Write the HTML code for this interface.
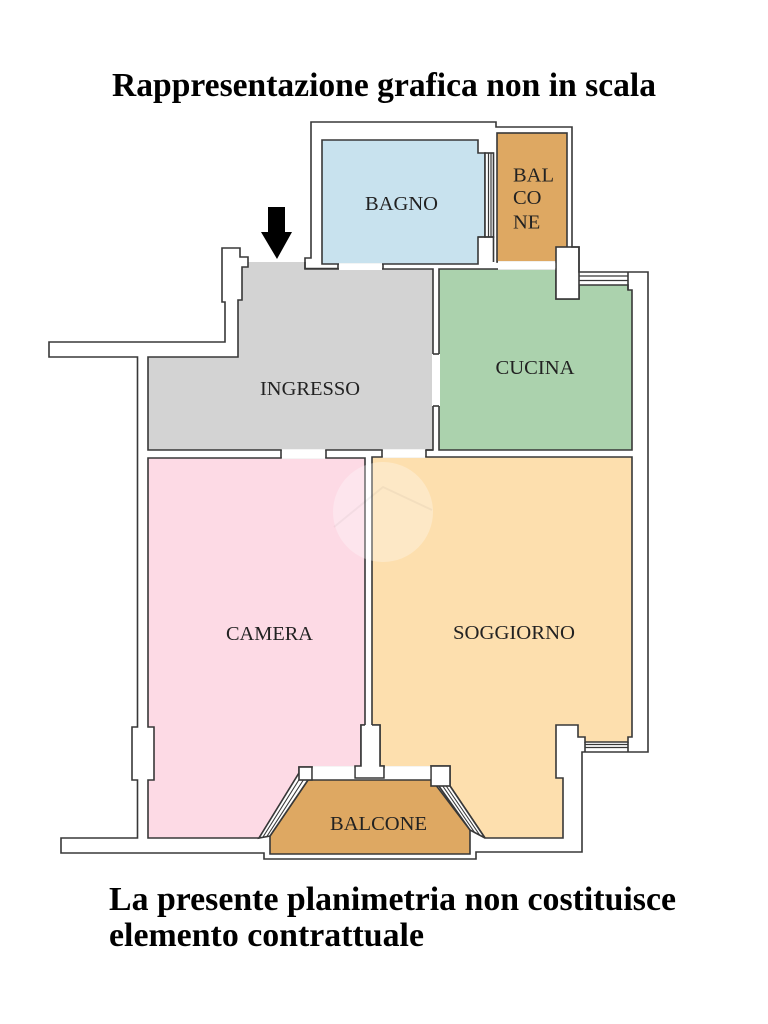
<!DOCTYPE html>
<html>
<head>
<meta charset="utf-8">
<style>
  html,body{margin:0;padding:0;background:#fff;}
  svg{display:block;}
  .lbl{font-family:"Liberation Serif",serif;font-size:20.5px;fill:#222;}
  .big{font-family:"Liberation Serif",serif;font-weight:bold;fill:#000;}
</style>
</head>
<body>
<svg width="768" height="1024" viewBox="0 0 768 1024" xmlns="http://www.w3.org/2000/svg">
  <rect width="768" height="1024" fill="#fff"/>

  <!-- Title -->
  <text class="big" x="112" y="96" font-size="33.5" textLength="544" lengthAdjust="spacingAndGlyphs">Rappresentazione grafica non in scala</text>

  <g stroke="#383838" stroke-width="1.6" stroke-linejoin="miter">
    <!-- Ingresso -->
    <polygon points="248,262 305,262 305,269 433,269 433,450 148,450 148,357 238,357 238,300 242,300 242,267 248,267" fill="#D3D3D3" stroke="none"/>
    <polyline points="305,262 305,269 433,269 433,450 148,450 148,357 238,357 238,300 242,300 242,267 248,267 248,262" fill="none"/>

    <!-- Bagno -->
    <polygon points="322,140 478,140 478,153 485,153 485,237 478,237 478,264 322,264" fill="#C8E2EE"/>
    <rect x="485" y="153" width="8.5" height="84" fill="#fff"/>
    <line x1="488.5" y1="153" x2="488.5" y2="237" stroke-width="1.2"/>
    <line x1="491" y1="153" x2="491" y2="237" stroke-width="1.2"/>
    <polyline points="478,237 493.5,237 493.5,262" fill="none"/>

    <!-- Small balcone -->
    <rect x="497" y="133" width="70" height="129" fill="#DEA862"/>

    <!-- Cucina -->
    <polygon points="439,269 556,269 556,299 579,299 579,285 628,285 628,290 632,290 632,450 439,450" fill="#ABD2AD"/>
    <!-- pillar -->
    <rect x="556" y="247" width="23" height="52" fill="#fff"/>
    <line x1="579" y1="276" x2="628" y2="276" stroke-width="1.2"/>
    <line x1="579" y1="280.5" x2="628" y2="280.5" stroke-width="1.2"/>
    <line x1="628" y1="272" x2="628" y2="290"/>

    <!-- Camera -->
    <polygon points="148,458 365,458 365,725 361,725 361,767 299,767 299,773 259,838 148,838 148,780 154,780 154,727 148,727" fill="#FDDAE5"/>

    <!-- Soggiorno -->
    <polygon points="372,457 632,457 632,737 628,737 628,742 585,742 585,737 578,737 578,725 556,725 556,778 563,778 563,838 485,838 450,786 450,766 431,766 431,767 384,767 384,766 380,766 380,725 372,725" fill="#FDDFAE"/>
    <line x1="585" y1="744.5" x2="628" y2="744.5" stroke-width="1.2"/>
    <line x1="585" y1="747.5" x2="628" y2="747.5" stroke-width="1.2"/>
    <line x1="585" y1="742" x2="585" y2="752"/>
    <line x1="628" y1="742" x2="628" y2="752"/>

    <!-- Balcone bottom -->
    <polygon points="308,780 432,780 470,830 470,854 270,854 270,836" fill="#DEA862"/>

    <!-- Left diagonal window -->
    <polygon points="299,773 308,780 270,836 259,838" fill="#fff"/>
    <line x1="302" y1="775" x2="263" y2="837" stroke-width="1.1"/>
    <line x1="305" y1="777.5" x2="266.5" y2="837" stroke-width="1.1"/>
    <rect x="299" y="767" width="13" height="13" fill="#fff"/>

    <!-- Right diagonal window -->
    <polygon points="436,782 450,786 485,838 470,830" fill="#fff"/>
    <line x1="441" y1="783.5" x2="475" y2="833" stroke-width="1.1"/>
    <line x1="445.5" y1="785" x2="480" y2="835.5" stroke-width="1.1"/>
    <rect x="431" y="766" width="19" height="20" fill="#fff"/>

    <!-- Pillar camera/soggiorno -->
    <polyline points="365,725 361,725 361,766 355,766 355,778 384,778 384,766 380,766 380,725 372,725" fill="#fff"/>

    <!-- Outer outline -->
    <path d="M248,262 L248,257 L240,257 L240,248 L222,248 L222,302 L225,302 L225,342 L49,342 L49,357 L137.5,357 L137.5,727 L132,727 L132,780 L137.5,780 L137.5,838 L61,838 L61,853 L264,853 L264,859 L476,859 L476,852 L582,852 L582,752 L648,752 L648,272 L579,272 L579,247 L572,247 L572,127 L496,127 L496,122 L311,122 L311,258 L305,258 L305,268.5 L338,268.5 L338,264" fill="none"/>
  </g>

  <!-- Door openings -->
  <g fill="#fff">
    <rect x="339" y="263.1" width="43" height="6.9"/>
    <rect x="432" y="354" width="8" height="52"/>
    <rect x="281.8" y="449.1" width="43.4" height="9.8"/>
    <rect x="382.8" y="449.1" width="42.4" height="8.8"/>
    <rect x="498" y="261.1" width="57.2" height="8.7"/>
    <rect x="312.9" y="766.1" width="41.3" height="12.9"/>
    <rect x="384.9" y="766.1" width="45.3" height="12.9"/>
  </g>
  <g stroke="#383838" stroke-width="1.6">
    <line x1="383" y1="264" x2="383" y2="269"/>
    <line x1="433" y1="354" x2="439" y2="354"/>
    <line x1="433" y1="406" x2="439" y2="406"/>
    <line x1="281" y1="450" x2="281" y2="458"/>
    <line x1="326" y1="450" x2="326" y2="458"/>
    <line x1="382" y1="450" x2="382" y2="457"/>
    <line x1="426" y1="450" x2="426" y2="457"/>
    <line x1="426" y1="450" x2="433" y2="450"/>
  </g>

  <!-- watermark -->
  <circle cx="383" cy="512" r="50" fill="#fff" opacity="0.3"/>
  <polyline points="334,527 383,487 432,510" fill="none" stroke="#000" stroke-opacity="0.04" stroke-width="2"/>

  <!-- Entrance arrow -->
  <polygon points="268,207 285,207 285,232 292,232 277,259 261,232 268,232" fill="#000"/>

  <!-- Labels -->
  <text class="lbl" x="401.5" y="210" text-anchor="middle" textLength="73" lengthAdjust="spacingAndGlyphs">BAGNO</text>
  <text class="lbl" x="513" y="181.7" font-size="20">BAL</text>
  <text class="lbl" x="513" y="204" font-size="20">CO</text>
  <text class="lbl" x="513" y="228.3" font-size="20">NE</text>
  <text class="lbl" x="310" y="395" text-anchor="middle" textLength="100" lengthAdjust="spacingAndGlyphs">INGRESSO</text>
  <text class="lbl" x="535" y="374" text-anchor="middle" textLength="79" lengthAdjust="spacingAndGlyphs">CUCINA</text>
  <text class="lbl" x="269.5" y="640" text-anchor="middle" textLength="87" lengthAdjust="spacingAndGlyphs">CAMERA</text>
  <text class="lbl" x="514" y="639" text-anchor="middle" textLength="122" lengthAdjust="spacingAndGlyphs">SOGGIORNO</text>
  <text class="lbl" x="378.5" y="830" text-anchor="middle" textLength="97" lengthAdjust="spacingAndGlyphs">BALCONE</text>

  <!-- Footer -->
  <text class="big" x="109" y="910" font-size="34" textLength="567" lengthAdjust="spacingAndGlyphs">La presente planimetria non costituisce</text>
  <text class="big" x="109" y="946" font-size="34" textLength="315" lengthAdjust="spacingAndGlyphs">elemento contrattuale</text>
</svg>
</body>
</html>
